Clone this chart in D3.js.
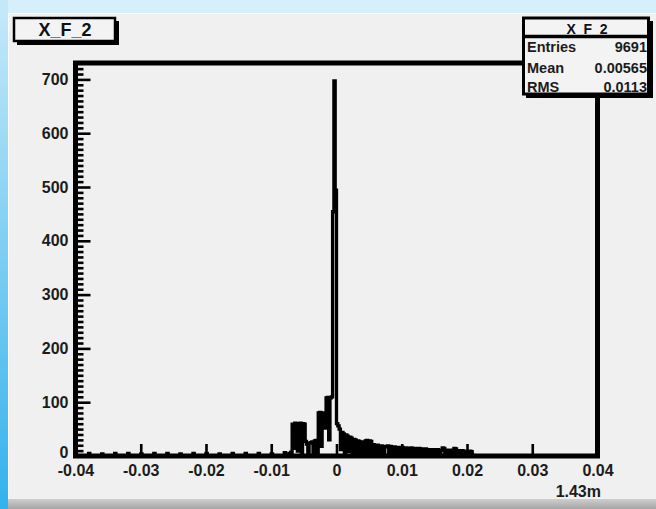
<!DOCTYPE html>
<html><head><meta charset="utf-8">
<script src="https://cdn.jsdelivr.net/npm/d3@7"></script>
<style>html,body{margin:0;padding:0;background:#f0f0f0;overflow:hidden}svg{display:block}</style>
</head><body>
<script>
// ---------------- data ----------------
const histTitle = "X_F_2";
const statsLabels = ["Entries", "Mean", "RMS"];
const statsValues = ["9691", "0.00565", "0.0113"];
const xTickValues = [-0.04, -0.03, -0.02, -0.01, 0, 0.01, 0.02, 0.03, 0.04];
const xTickLabels = ["-0.04", "-0.03", "-0.02", "-0.01", "0", "0.01", "0.02", "0.03", "0.04"];
const yTickValues = [0, 100, 200, 300, 400, 500, 600, 700];
const yTickLabels = ["0", "100", "200", "300", "400", "500", "600", "700"];
const xAxisTitle = "1.43m";
const xMin = -0.04, xMax = 0.04, yMax = 730.5;
const binWidth = 0.0002;
// dense central region, bins of 0.0002 starting at -0.009
const coreStart = -0.009;
const coreCounts = [
  0, 0, 0, 0, 0, 6, 0, 0, 4, 5,
  7, 59, 14, 61, 60, 9, 58, 61, 5, 60,
  59, 27, 22, 3, 24, 25, 26, 4, 28, 29,
  5, 80, 81, 18, 80, 79, 52, 108, 109, 30,
  108, 110, 454, 697, 494, 60, 56, 50, 12, 44,
  41, 5, 39, 37, 8, 35, 33, 4, 31, 30,
  6, 28, 27, 3, 26, 25, 7, 28, 29, 4,
  28, 27, 6, 21, 20, 4, 20, 19, 5, 19,
  18, 3, 18, 17, 19, 3, 18, 17, 4, 17,
  16, 2, 16, 15, 3, 16, 15, 3, 15, 14,
  2, 14, 15, 3, 13, 14, 2, 13, 14, 1,
  13, 12, 2, 13, 12, 3, 12, 11, 1, 12,
  11, 2, 12, 11, 3, 11, 15, 14, 2, 11,
  10, 2, 11, 10, 1, 14, 13, 2, 10, 9,
  2, 10, 9, 1, 9, 8, 2, 9, 8, 1
];
// isolated entries in the left tail (bin left edges and counts)
const tailEdges = [-0.038, -0.036, -0.034, -0.032, -0.030, -0.028, -0.026, -0.024, -0.022, -0.020, -0.018, -0.016, -0.014, -0.012, -0.010];
const tailCounts = [5, 4, 5, 5, 4, 5, 5, 4, 5, 5, 4, 5, 5, 5, 4];

// ---------------- drawing ----------------
const W = 656, H = 509;
const svg = d3.select("body").append("svg").attr("width", W).attr("height", H);
const defs = svg.append("defs");
const lg = defs.append("linearGradient").attr("id", "leftBlue").attr("x1", 0).attr("y1", 0).attr("x2", 0).attr("y2", 1);
lg.append("stop").attr("offset", "0%").attr("stop-color", "#c6e9f9");
lg.append("stop").attr("offset", "100%").attr("stop-color", "#33b2ec");
const bg = defs.append("linearGradient").attr("id", "botGray").attr("x1", 0).attr("y1", 0).attr("x2", 0).attr("y2", 1);
bg.append("stop").attr("offset", "0%").attr("stop-color", "#cfcfcf");
bg.append("stop").attr("offset", "100%").attr("stop-color", "#a4a4a4");

svg.append("rect").attr("width", W).attr("height", H).attr("fill", "#d5f0fb");
svg.append("rect").attr("x", 0).attr("y", 0).attr("width", 8).attr("height", H).attr("fill", "url(#leftBlue)");
svg.append("rect").attr("x", 8).attr("y", 13).attr("width", W - 8).attr("height", H - 13).attr("fill", "#fbfbfb");
svg.append("rect").attr("x", 9).attr("y", 14).attr("width", W - 9).attr("height", 485).attr("fill", "#f0f0f0");
svg.append("rect").attr("x", 8).attr("y", 499).attr("width", W - 8).attr("height", 10).attr("fill", "url(#botGray)");

const x = d3.scaleLinear().domain([xMin, xMax]).range([75.5, 597.5]);
const y = d3.scaleLinear().domain([0, yMax]).range([456, 63]);

// build histogram
const nBins = Math.round((xMax - xMin) / binWidth);
const counts = new Array(nBins).fill(0);
const coreOffset = Math.round((coreStart - xMin) / binWidth);
coreCounts.forEach((c, i) => { counts[coreOffset + i] += c; });
tailEdges.forEach((e, i) => { counts[Math.round((e - xMin) / binWidth)] += tailCounts[i]; });
const pts = [[xMin, 0]];
counts.forEach((c, i) => { const a = xMin + i * binWidth; pts.push([a, c], [a + binWidth, c]); });
pts.push([xMax, 0]);
const line = d3.line().x(d => x(d[0])).y(d => y(d[1]));
svg.append("path").attr("d", line(pts)).attr("fill", "none").attr("stroke", "#000")
  .attr("stroke-width", 3.3).attr("stroke-linejoin", "miter");

// axes
const font = "'Liberation Sans', Arial, sans-serif";
const yMaj = svg.append("g").attr("transform", `translate(${x(xMin)},0)`)
  .call(d3.axisRight(y).tickValues(yTickValues).tickSize(15).tickFormat(""));
const yMinorVals = d3.range(10, yMax, 10).filter(v => v % 100 !== 0);
const yMin = svg.append("g").attr("transform", `translate(${x(xMin)},0)`)
  .call(d3.axisRight(y).tickValues(yMinorVals).tickSize(8).tickFormat(""));
[yMaj, yMin].forEach(g => { g.select(".domain").remove(); g.selectAll("line").attr("stroke", "#000").attr("stroke-width", 2.6); });
const yLab = svg.append("g").attr("transform", `translate(${x(xMin)},0)`)
  .call(d3.axisLeft(y).tickValues(yTickValues).tickSize(0).tickPadding(7).tickFormat((d, i) => yTickLabels[i]));
yLab.select(".domain").remove();
yLab.selectAll("text").attr("font-family", font).attr("font-size", 16).attr("font-weight", "bold").attr("fill", "#1c1c1c");
yLab.selectAll("text").filter(d => d === 0).attr("dy", "0.1em");

const xMaj = svg.append("g").attr("transform", `translate(0,${y(0)})`)
  .call(d3.axisTop(x).tickValues(xTickValues).tickSize(12).tickFormat(""));
xMaj.select(".domain").remove();
xMaj.selectAll("line").attr("stroke", "#000").attr("stroke-width", 2.6);
const xLab = svg.append("g").attr("transform", `translate(0,${y(0)})`)
  .call(d3.axisBottom(x).tickValues(xTickValues).tickSize(0).tickPadding(9).tickFormat((d, i) => xTickLabels[i]));
xLab.select(".domain").remove();
xLab.selectAll("text").attr("font-family", font).attr("font-size", 16).attr("font-weight", "bold").attr("fill", "#1c1c1c");

svg.append("text").attr("x", 601).attr("y", 496.5).attr("text-anchor", "end")
  .attr("font-family", font).attr("font-size", 16).attr("font-weight", "bold").attr("fill", "#1c1c1c").text(xAxisTitle);

// frame
svg.append("rect").attr("x", x(xMin)).attr("y", y(yMax)).attr("width", x(xMax) - x(xMin)).attr("height", y(0) - y(yMax))
  .attr("fill", "none").attr("stroke", "#000").attr("stroke-width", 5);

// title box
svg.append("rect").attr("x", 17).attr("y", 21).attr("width", 102).attr("height", 24).attr("fill", "#000");
svg.append("rect").attr("x", 14).attr("y", 18).attr("width", 101).attr("height", 23).attr("fill", "#f3f3f3").attr("stroke", "#000").attr("stroke-width", 2.5);
svg.append("text").attr("x", 65).attr("y", 36).attr("text-anchor", "middle")
  .attr("font-family", font).attr("font-size", 18).attr("font-weight", "bold").attr("fill", "#111").text(histTitle);

// stats box
svg.append("rect").attr("x", 526).attr("y", 21).attr("width", 127).attr("height", 77).attr("fill", "#000");
svg.append("rect").attr("x", 523.5).attr("y", 18).attr("width", 125).attr("height", 76).attr("fill", "#f3f3f3").attr("stroke", "#000").attr("stroke-width", 3);
svg.append("text").attr("x", 587).attr("y", 34).attr("text-anchor", "middle")
  .attr("font-family", font).attr("font-size", 14).attr("font-weight", "bold").attr("fill", "#111").text(histTitle);
svg.append("line").attr("x1", 523.5).attr("x2", 648.5).attr("y1", 36.5).attr("y2", 36.5).attr("stroke", "#000").attr("stroke-width", 3.5);
const rowY = [52, 72.5, 92];
statsLabels.forEach((lab, i) => {
  svg.append("text").attr("x", 527).attr("y", rowY[i]).attr("font-family", font).attr("font-size", 14.5)
    .attr("font-weight", "bold").attr("fill", "#1c1c1c").text(lab);
  svg.append("text").attr("x", 647).attr("y", rowY[i]).attr("text-anchor", "end").attr("font-family", font).attr("font-size", 14.5)
    .attr("font-weight", "bold").attr("fill", "#1c1c1c").text(statsValues[i]);
});
</script>
</body></html>
